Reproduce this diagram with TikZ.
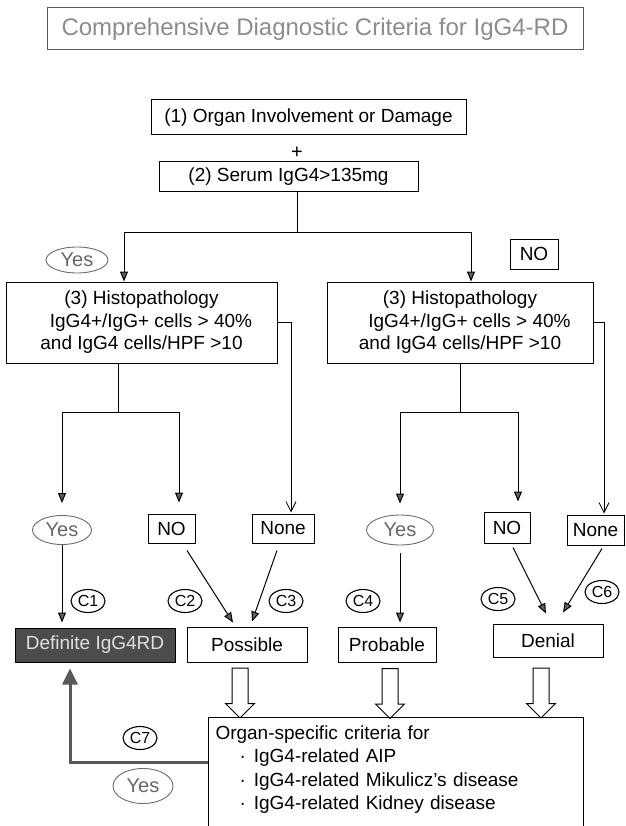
\documentclass[tikz,border=0pt]{standalone}
\usepackage{fontspec}
\setmainfont{Liberation Sans}
\usetikzlibrary{arrows.meta,shapes.geometric,shapes.arrows}

\tikzset{
  box/.style={draw, line width=1pt, inner sep=0pt, font=\fontsize{19}{22.5}\selectfont},
  yesoval/.style={ellipse, draw=gray!85!black, line width=0.9pt, text=gray!80!black, inner sep=0pt, font=\fontsize{20}{22}\selectfont},
  clabel/.style={ellipse, draw, line width=1.1pt, inner sep=0pt, minimum width=34pt, minimum height=23pt, font=\fontsize{16}{16}\selectfont},
  arr/.style={line width=1pt, -{Triangle[length=10pt,width=8pt,fill=gray!75!black]}},
  openarr/.style={line width=0.8pt, -{Straight Barb[length=10pt,width=10pt]}},
  blockarr/.style={single arrow, draw, line width=1pt, rotate=-90, anchor=tail,
    single arrow head extend=6.5pt, single arrow head indent=0pt,
    minimum height=50pt, inner xsep=0pt, inner ysep=7.5pt},
  c7arr/.style={line width=3pt, gray!70!black, -{Triangle[length=16pt,width=15pt]}}
}

\begin{document}
\begin{tikzpicture}[x=1pt,y=1pt]
            \useasboundingbox (0,0) rectangle (625,-826);
            \clip (0,0) rectangle (625,-826);

            %Nodes
            \node[box, draw=gray!70!black, text=gray!90, font=\fontsize{24}{26}\selectfont,
                  minimum width=536, minimum height=42] at (315,-29) (title)
                  {Comprehensive Diagnostic Criteria for IgG4-RD};
            \node[box, minimum width=315, minimum height=35] at (308.5,-117.5) (organ1)
                  {(1) Organ Involvement or Damage};
            \node[font=\fontsize{20}{20}\selectfont, inner sep=0pt] at (297,-153) (plus) {+};
            \node[box, minimum width=259, minimum height=30] at (288.5,-177) (serum)
                  {(2) Serum IgG4>135mg};

            \node[yesoval, minimum width=62, minimum height=26] at (77,-260) (yesTop) {Yes};
            \node[box, minimum width=48, minimum height=30] at (534,-254) (noTop) {NO};

            \node[box, align=center, minimum width=271, minimum height=81] at (141.5,-322.5) (histL)
                  {(3) Histopathology\\ \hspace*{1em}IgG4+/IgG+ cells > 40\%\\ and IgG4 cells/HPF >10};
            \node[box, align=center, minimum width=266, minimum height=81] at (460,-322.5) (histR)
                  {(3) Histopathology\\ \hspace*{1em}IgG4+/IgG+ cells > 40\%\\ and IgG4 cells/HPF >10};

            \node[yesoval, minimum width=59, minimum height=29] at (62,-530) (yesL) {Yes};
            \node[box, minimum width=47, minimum height=29] at (171.5,-528.5) (noL) {NO};
            \node[box, minimum width=62, minimum height=29] at (283,-528.5) (noneL) {None};
            \node[yesoval, minimum width=67, minimum height=30] at (400,-530) (yesR) {Yes};
            \node[box, minimum width=46, minimum height=31] at (507,-527.5) (noR) {NO};
            \node[box, minimum width=57, minimum height=30] at (595.5,-530) (noneR) {None};

            \node[clabel] at (88,-601)  (c1) {C1};
            \node[clabel] at (185,-601) (c2) {C2};
            \node[clabel] at (286,-601) (c3) {C3};
            \node[clabel] at (363,-601) (c4) {C4};
            \node[clabel] at (498,-599) (c5) {C5};
            \node[clabel] at (602,-592) (c6) {C6};

            \node[box, fill=gray!60!black, text=gray!25, minimum width=160, minimum height=34] at (95,-645) (defin)
                  {Definite IgG4RD};
            \node[box, minimum width=120, minimum height=35] at (247,-644.5) (possible) {Possible};
            \node[box, minimum width=98, minimum height=35] at (387,-645) (probable) {Probable};
            \node[box, minimum width=110, minimum height=33] at (548,-640.5) (denial) {Denial};

            \node[box, anchor=north west, align=left, text width=361, inner xsep=7pt, inner ysep=8pt,
                  font=\fontsize{19}{23.5}\selectfont] at (208,-717) (organ)
                  {Organ-specific criteria for\\
                   \hspace*{24pt}·\hspace{8pt}IgG4-related AIP\\
                   \hspace*{24pt}·\hspace{8pt}IgG4-related Mikulicz's disease\\
                   \hspace*{24pt}·\hspace{8pt}IgG4-related Kidney disease\\ ~};

            \node[blockarr] at ([shift={(-7pt,-5pt)}]possible.south) (down1) {};
            \node[blockarr] at ([shift={(3pt,-5pt)}]probable.south) (down2) {};
            \node[blockarr] at ([shift={(-7pt,-10pt)}]denial.south) (down3) {};

            \node[clabel] at (140,-738) (c7) {C7};
            \node[yesoval, minimum width=60, minimum height=35] at (143,-786) (yesBot) {Yes};

            %Lines
            \coordinate (split) at (297,-232);
            \draw[line width=1pt] (serum.south -| split) -- (split);
            \draw[arr] (split) -| ([xshift=-17.5pt]histL.north);
            \draw[arr] (split) -| ([xshift=11pt]histR.north);

            \draw[openarr, shorten >=1pt] (histL.east) -| ([xshift=8pt]noneL.north);
            \draw[openarr, shorten >=1pt] (histR.east) -| ([xshift=8.5pt]noneR.north);

            \coordinate (forkL) at (118,-412);
            \draw[line width=1pt] (histL.south -| forkL) -- (forkL);
            \draw[arr, shorten >=12pt] (forkL) -| (yesL.north);
            \draw[arr, shorten >=11pt] (forkL) -| ([xshift=7.5pt]noL.north);

            \coordinate (forkR) at (460,-412);
            \draw[line width=1pt] (histR.south) -- (forkR);
            \draw[arr, shorten >=11pt] (forkR) -| (yesR.north);
            \draw[arr, shorten >=10pt] (forkR) -| ([xshift=11pt]noR.north);

            \draw[arr, shorten >=5pt] (yesL.south) -- (yesL.south |- defin.north);
            \draw[arr] ([shift={(15.5pt,-7pt)}]noL.south) -- ([shift={(-14pt,4pt)}]possible.north);
            \draw[arr] ([shift={(-6pt,-7pt)}]noneL.south) -- ([shift={(5pt,5pt)}]possible.north);
            \draw[arr, shorten <=8pt, shorten >=4.5pt] (yesR.south) -- (yesR.south |- probable.north);
            \draw[arr] ([shift={(6pt,-4pt)}]noR.south) -- ([shift={(-2pt,10pt)}]denial.north);
            \draw[arr] ([shift={(6.5pt,-3pt)}]noneR.south) -- ([shift={(15pt,11pt)}]denial.north);

            \draw[c7arr, shorten >=6pt] ([yshift=-45pt]organ.north west) -| ([xshift=-25pt]defin.south);
        \end{tikzpicture}
\end{document}
